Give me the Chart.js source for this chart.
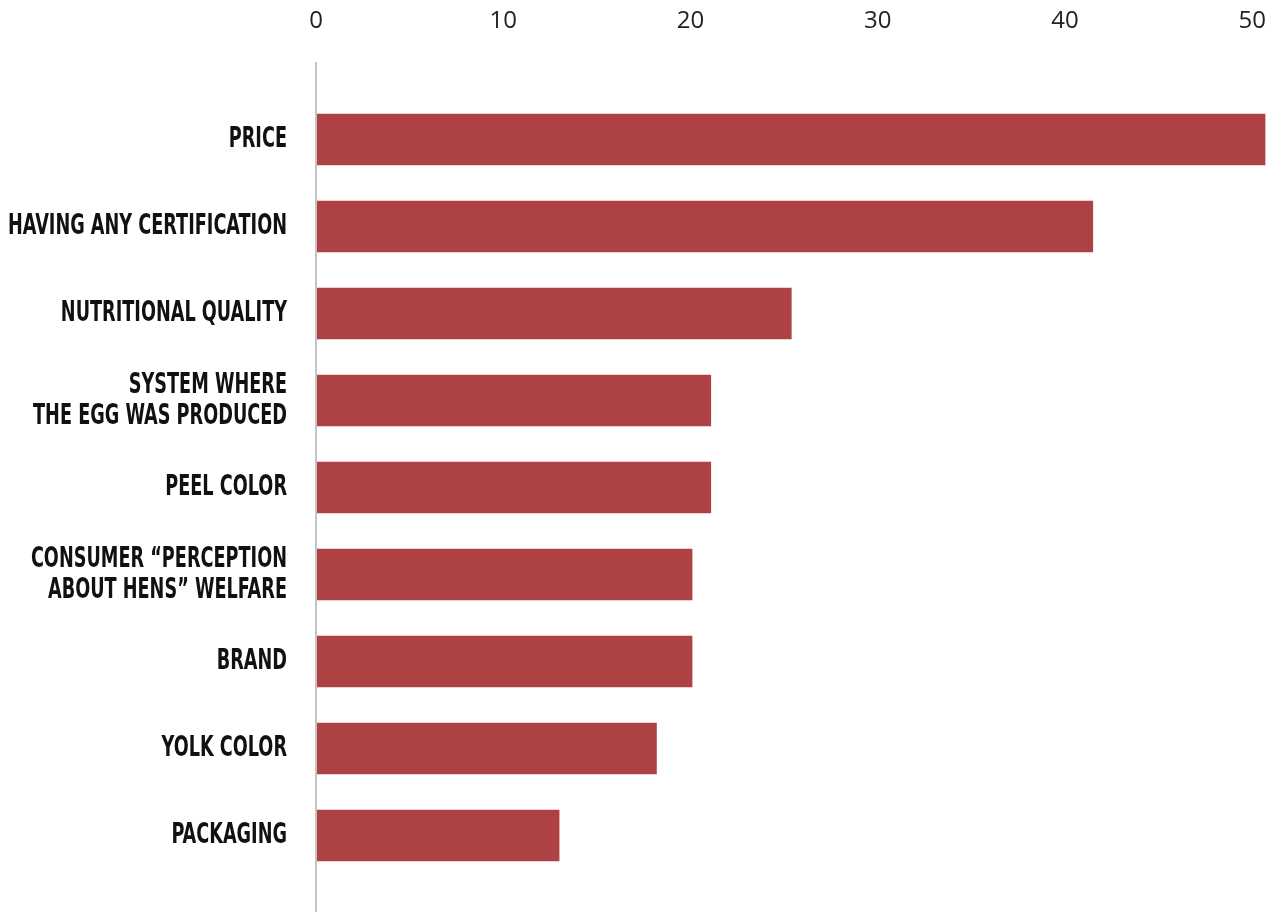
<!DOCTYPE html>
<html>
<head>
<meta charset="utf-8">
<script src="https://cdn.jsdelivr.net/npm/chart.js@4"></script>
<style>
  html, body { margin: 0; padding: 0; background: #ffffff; }
  #wrap { width: 1278px; height: 912px; position: relative; }
</style>
</head>
<body>
<div id="wrap"><canvas id="eggChart"></canvas></div>
<script>
// DATA
const categories = [
    "PRICE",
    "HAVING ANY CERTIFICATION",
    "NUTRITIONAL QUALITY",
    ["SYSTEM WHERE", "THE EGG WAS PRODUCED"],
    "PEEL COLOR",
    ["CONSUMER \u201CPERCEPTION", "ABOUT HENS\u201D WELFARE"],
    "BRAND",
    "YOLK COLOR",
    "PACKAGING"
];
const shares = [50.7, 41.5, 25.4, 21.1, 21.1, 20.1, 20.1, 18.2, 13.0];
const tickValues = [0, 10, 20, 30, 40, 50];
const axisMax = 51;

const labelFont = "bold 29px 'DejaVu Sans Condensed', 'DejaVu Sans', sans-serif";
const labelLineHeight = 31;
const labelWidth = 279;   // widest category label in the original
const labelGap = 29;

// vertical axis line (runs past the plot area like the original) + condensed category labels
const customAxis = {
    id: "customAxis",
    afterDraw(chart) {
        const ctx = chart.ctx;
        const xs = chart.scales.x;
        const ys = chart.scales.y;
        const x0 = xs.getPixelForValue(0);
        ctx.save();
        ctx.strokeStyle = "#c4c4c4";
        ctx.lineWidth = 2;
        ctx.beginPath();
        ctx.moveTo(x0, chart.chartArea.top - 34);
        ctx.lineTo(x0, chart.height);
        ctx.stroke();

        ctx.font = labelFont;
        let widest = 0;
        categories.forEach(c => [].concat(c).forEach(line => {
            widest = Math.max(widest, ctx.measureText(line).width);
        }));
        const squeeze = labelWidth / widest;
        ctx.fillStyle = "#111111";
        ctx.textAlign = "right";
        ctx.textBaseline = "middle";
        categories.forEach((c, i) => {
            const lines = [].concat(c);
            const yc = ys.getPixelForTick(i);
            lines.forEach((line, j) => {
                const y = yc + (j - (lines.length - 1) / 2) * labelLineHeight;
                ctx.save();
                ctx.translate(x0 - labelGap, y);
                ctx.scale(squeeze, 1);
                ctx.fillText(line, 0, 0);
                ctx.restore();
            });
        });
        ctx.restore();
    }
};

new Chart(document.getElementById("eggChart"), {
    type: "bar",
    data: {
        labels: categories,
        datasets: [{
            data: shares,
            backgroundColor: "#ae4143",
            borderWidth: 0,
            categoryPercentage: 1,
            barPercentage: 0.59
        }]
    },
    options: {
        indexAxis: "y",
        responsive: true,
        maintainAspectRatio: false,
        animation: false,
        layout: { padding: { top: 0, right: 7, bottom: 33, left: 0 } },
        plugins: {
            legend: { display: false },
            tooltip: { enabled: false }
        },
        scales: {
            x: {
                position: "top",
                min: 0,
                max: axisMax,
                afterBuildTicks: s => { s.ticks = tickValues.map(v => ({ value: v })); },
                afterFit: s => { s.height = 96; s.paddingLeft = 0; s.paddingRight = 0; },
                grid: { display: false, drawTicks: false },
                border: { display: false },
                ticks: {
                    padding: 60,
                    color: "#222222",
                    font: { family: "'Open Sans', 'Noto Sans', sans-serif", size: 24 },
                    maxRotation: 0
                }
            },
            y: {
                afterFit: s => { s.width = 316; },
                grid: { display: false, drawTicks: false },
                border: { display: false },
                ticks: { display: false }
            }
        }
    },
    plugins: [customAxis]
});
</script>
</body>
</html>
